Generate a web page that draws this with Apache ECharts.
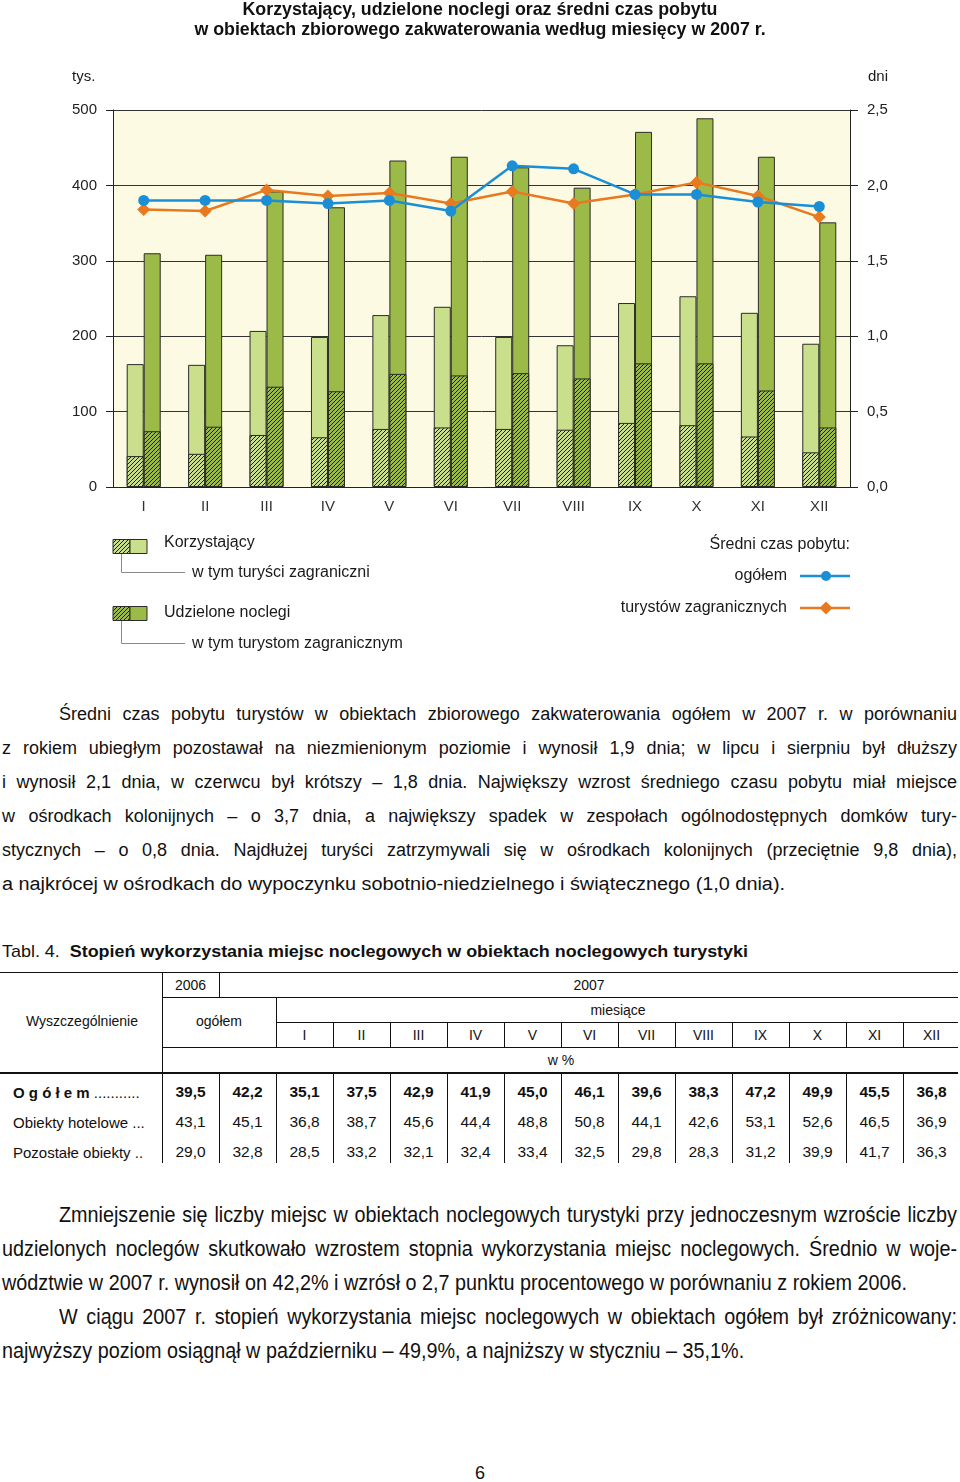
<!DOCTYPE html>
<html><head><meta charset="utf-8">
<script src="https://cdn.jsdelivr.net/npm/echarts@6/dist/echarts.min.js"></script>
<style>
html,body{margin:0;padding:0;background:#fff;}
body{width:960px;height:1482px;position:relative;overflow:hidden;font-family:'Liberation Sans',Arial,sans-serif;color:#111;}
#chart{position:absolute;left:0;top:0;width:960px;height:670px;}
.ln{position:absolute;white-space:nowrap;line-height:1;transform-origin:0 50%;}
.hl{position:absolute;background:#111;height:1px;}
.vl{position:absolute;background:#111;width:1px;}
</style></head>
<body>
<div id="chart"></div>
<script>
// ---------------- chart data ----------------
const months = ['I','II','III','IV','V','VI','VII','VIII','IX','X','XI','XII'];
const korzystajacy      = [163, 162, 207, 199, 228, 239, 199, 188, 244, 253, 231, 190];
const korzystajacyZagr  = [41, 44, 69, 66, 77, 79, 77, 76, 85, 82, 67, 46];
const noclegi           = [310, 308, 392, 371, 433, 438, 424, 397, 471, 489, 438, 351];
const noclegiZagr       = [74, 80, 133, 127, 150, 148, 151, 144, 164, 164, 128, 79];
const sredniOgolem      = [1.90, 1.90, 1.90, 1.88, 1.90, 1.83, 2.13, 2.11, 1.94, 1.94, 1.89, 1.86];
const sredniZagr        = [1.84, 1.83, 1.97, 1.93, 1.95, 1.88, 1.96, 1.88, 1.94, 2.02, 1.93, 1.79];
const leftTicks  = {min: 0, max: 500, interval: 100};
const rightTicks = {min: 0, max: 2.5, interval: 0.5};

// ---------------- table data ----------------
const tabMonths = ['I','II','III','IV','V','VI','VII','VIII','IX','X','XI','XII'];
const rowLabels = ['O g ó ł e m', 'Obiekty hotelowe', 'Pozostałe obiekty'];
const rowDots   = [' ...........', ' ...', ' ..'];
const rowOgolem  = [39.5, 42.2, 35.1, 37.5, 42.9, 41.9, 45.0, 46.1, 39.6, 38.3, 47.2, 49.9, 45.5, 36.8];
const rowHotel   = [43.1, 45.1, 36.8, 38.7, 45.6, 44.4, 48.8, 50.8, 44.1, 42.6, 53.1, 52.6, 46.5, 36.9];
const rowPozost  = [29.0, 32.8, 28.5, 33.2, 32.1, 32.4, 33.4, 32.5, 29.8, 28.3, 31.2, 39.9, 41.7, 36.3];

const LIGHT = '#C9DF8B', DARK = '#9CBA47', BLUE = '#1B8FD6', ORANGE = '#E8791F', EDGE = '#2b2b2b';
const FONT = "'Liberation Sans', Arial, sans-serif";

function makeHatch(bg) {
  const s = 4, c = document.createElement('canvas');
  c.width = s; c.height = s;
  const g = c.getContext('2d');
  g.fillStyle = bg; g.fillRect(0, 0, s, s);
  g.strokeStyle = '#1d1d1d'; g.lineWidth = 1;
  g.beginPath();
  g.moveTo(-1, s + 1); g.lineTo(s + 1, -1);
  g.moveTo(-1, 1); g.lineTo(1, -1);
  g.moveTo(s - 1, s + 1); g.lineTo(s + 1, s - 1);
  g.stroke();
  return c;
}
const hatchLight = {image: makeHatch(LIGHT), repeat: 'repeat'};
const hatchDark  = {image: makeHatch(DARK), repeat: 'repeat'};

const barBase = {type: 'bar', barWidth: 17, barGap: '0%', yAxisIndex: 0};
const txt = (text, x, y, align, size) => ({
  type: 'text', silent: true,
  style: {text, x, y, fill: '#1a1a1a', font: (size || 16) + 'px ' + FONT, textAlign: align || 'left', textVerticalAlign: 'middle'}
});

const chart = echarts.init(document.getElementById('chart'), null, {renderer: 'canvas'});
chart.setOption({
  animation: false,
  textStyle: {fontFamily: FONT},
  title: {
    text: 'Korzystający, udzielone noclegi oraz średni czas pobytu\nw obiektach zbiorowego zakwaterowania według miesięcy w 2007 r.',
    left: 'center', top: 0, padding: 0,
    textStyle: {fontSize: 17.8, fontWeight: 'bold', lineHeight: 20, color: '#111', fontFamily: FONT}
  },
  grid: {left: 113, right: 110, top: 110, height: 377, show: true, backgroundColor: '#FCFAE2', borderWidth: 0},
  xAxis: [
    {type: 'category', data: months, axisLine: {lineStyle: {color: '#222', width: 1}},
     axisTick: {length: 6, lineStyle: {color: '#222'}},
     axisLabel: {fontSize: 15, color: '#333', margin: 12, fontFamily: FONT}},
    {type: 'category', data: months, show: false}
  ],
  yAxis: [
    Object.assign({type: 'value', position: 'left',
      axisLine: {show: true, lineStyle: {color: '#222'}},
      axisTick: {show: true, length: 7, lineStyle: {color: '#222'}},
      axisLabel: {fontSize: 15, color: '#222', margin: 16, fontFamily: FONT},
      splitLine: {show: true, lineStyle: {color: '#333', width: 1}}}, leftTicks),
    Object.assign({type: 'value', position: 'right',
      axisLine: {show: true, lineStyle: {color: '#222'}},
      axisTick: {show: true, length: 8, lineStyle: {color: '#222'}},
      axisLabel: {fontSize: 15, color: '#222', margin: 17, fontFamily: FONT,
        formatter: v => v.toFixed(1).replace('.', ',')},
      splitLine: {show: false}}, rightTicks)
  ],
  series: [
    Object.assign({}, barBase, {name: 'Korzystający', xAxisIndex: 0, data: korzystajacy,
      itemStyle: {color: LIGHT, borderColor: EDGE, borderWidth: 1}}),
    Object.assign({}, barBase, {name: 'Udzielone noclegi', xAxisIndex: 0, data: noclegi,
      itemStyle: {color: DARK, borderColor: EDGE, borderWidth: 1}}),
    Object.assign({}, barBase, {name: 'w tym turyści zagraniczni', xAxisIndex: 1, data: korzystajacyZagr,
      itemStyle: {color: hatchLight, borderColor: EDGE, borderWidth: 1}}),
    Object.assign({}, barBase, {name: 'w tym turystom zagranicznym', xAxisIndex: 1, data: noclegiZagr,
      itemStyle: {color: hatchDark, borderColor: EDGE, borderWidth: 1}}),
    {type: 'line', name: 'ogółem', xAxisIndex: 0, yAxisIndex: 1, data: sredniOgolem,
      symbol: 'circle', symbolSize: 11, lineStyle: {color: BLUE, width: 2.5}, itemStyle: {color: BLUE}, z: 5},
    {type: 'line', name: 'turystów zagranicznych', xAxisIndex: 0, yAxisIndex: 1, data: sredniZagr,
      symbol: 'diamond', symbolSize: 13, lineStyle: {color: ORANGE, width: 2.5}, itemStyle: {color: ORANGE}, z: 4}
  ],
  graphic: [
    txt('tys.', 72, 77, 'left', 15),
    txt('dni', 868, 77, 'left', 15),
    // left legend
    {type: 'rect', shape: {x: 113, y: 539.5, width: 17, height: 14}, style: {fill: hatchLight, stroke: EDGE, lineWidth: 1}},
    {type: 'rect', shape: {x: 130, y: 539.5, width: 17, height: 14}, style: {fill: LIGHT, stroke: EDGE, lineWidth: 1}},
    txt('Korzystający', 164, 543),
    {type: 'polyline', shape: {points: [[121.5, 554], [121.5, 572.5], [185, 572.5]]}, style: {stroke: '#8a8a8a', lineWidth: 1, fill: null}},
    txt('w tym turyści zagraniczni', 192, 573),
    {type: 'rect', shape: {x: 113, y: 606.5, width: 17, height: 14}, style: {fill: hatchDark, stroke: EDGE, lineWidth: 1}},
    {type: 'rect', shape: {x: 130, y: 606.5, width: 17, height: 14}, style: {fill: DARK, stroke: EDGE, lineWidth: 1}},
    txt('Udzielone noclegi', 164, 613),
    {type: 'polyline', shape: {points: [[121.5, 621], [121.5, 643.5], [185, 643.5]]}, style: {stroke: '#8a8a8a', lineWidth: 1, fill: null}},
    txt('w tym turystom zagranicznym', 192, 644),
    // right legend
    txt('Średni czas pobytu:', 850, 545, 'right'),
    txt('ogółem', 787, 576, 'right'),
    {type: 'line', shape: {x1: 800, y1: 576, x2: 850, y2: 576}, style: {stroke: BLUE, lineWidth: 2.5}},
    {type: 'circle', shape: {cx: 826, cy: 576, r: 5}, style: {fill: BLUE}},
    txt('turystów zagranicznych', 787, 608, 'right'),
    {type: 'line', shape: {x1: 800, y1: 608, x2: 850, y2: 608}, style: {stroke: ORANGE, lineWidth: 2.5}},
    {type: 'polygon', shape: {points: [[826, 601.5], [832.5, 608], [826, 614.5], [819.5, 608]]}, style: {fill: ORANGE}}
  ]
});

// ---------------- document text ----------------
function measure(html, size, family) {
  const d = document.createElement('div');
  d.className = 'ln'; d.innerHTML = html;
  d.style.fontFamily = family || FONT; d.style.fontSize = size + 'px';
  document.body.appendChild(d);
  const w = d.getBoundingClientRect().width;
  d.remove();
  return w;
}
function put(html, o) {
  const d = document.createElement('div');
  d.className = 'ln';
  d.innerHTML = html;
  d.style.fontFamily = o.family || FONT;
  d.style.fontSize = (o.size || 18) + 'px';
  if (o.bold) d.style.fontWeight = 'bold';
  document.body.appendChild(d);
  let w = d.getBoundingClientRect().width;
  const h = o.size || 18;
  let sx = o.sx || 1;
  if (o.target) {
    const tgt = o.target / sx;
    if (o.justify) {
      const n = (d.textContent.match(/ /g) || []).length;
      if (w < tgt && n > 0) d.style.wordSpacing = ((tgt - w) / n) + 'px';
      else if (w > tgt) sx = o.target / w;
    } else if (Math.abs(tgt / w - 1) > 0.01) {
      sx = o.target / w;
    }
    w = o.target;
  } else {
    w = w * sx;
  }
  if (sx !== 1) d.style.transform = 'scaleX(' + sx + ')';
  let left = o.x;
  if (o.align === 'center') left = o.x - w / 2;
  if (o.align === 'right') left = o.x - w;
  d.style.left = left + 'px';
  d.style.top = (o.y - h / 2) + 'px';
  return d;
}

const para1 = [
  'Średni czas pobytu turystów w obiektach zbiorowego zakwaterowania ogółem w 2007 r. w porównaniu',
  'z rokiem ubiegłym pozostawał na niezmienionym poziomie i wynosił 1,9 dnia; w lipcu i sierpniu był dłuższy',
  'i wynosił 2,1 dnia, w czerwcu był krótszy – 1,8 dnia. Największy wzrost średniego czasu pobytu miał miejsce',
  'w ośrodkach kolonijnych – o 3,7 dnia, a największy spadek w zespołach ogólnodostępnych domków tury-',
  'stycznych – o 0,8 dnia. Najdłużej turyści zatrzymywali się w ośrodkach kolonijnych (przeciętnie 9,8 dnia),',
  'a najkrócej w ośrodkach do wypoczynku sobotnio-niedzielnego i świątecznego (1,0 dnia).'
];
para1.forEach((t, i) => {
  const first = i === 0, last = i === para1.length - 1;
  const x = first ? 59 : 2;
  put(t, {x, y: 714 + 34 * i, size: 18, target: last ? 783 : 957 - x, justify: !last});
});

const para2 = [
  ['Zmniejszenie się liczby miejsc w obiektach noclegowych turystyki przy jednoczesnym wzroście liczby', true, false],
  ['udzielonych noclegów skutkowało wzrostem stopnia wykorzystania miejsc noclegowych. Średnio w woje-', false, false],
  ['wództwie w 2007 r. wynosił on 42,2% i wzrósł o 2,7 punktu procentowego w porównaniu z rokiem 2006.', false, true],
  ['W ciągu 2007 r. stopień wykorzystania miejsc noclegowych w obiektach ogółem był zróżnicowany:', true, false],
  ['najwyższy poziom osiągnął w październiku – 49,9%, a najniższy w styczniu – 35,1%.', false, true]
];
const P2SIZE = 22.5;
const p2sx = 905 / measure(para2[2][0], P2SIZE);
para2.forEach((p, i) => {
  const x = p[1] ? 59 : 2;
  put(p[0], {x, y: 1215 + 34 * i, size: P2SIZE, sx: p2sx, target: p[2] ? null : 957 - x, justify: !p[2]});
});

put('Tabl. 4.&nbsp; <b>Stopień wykorzystania miejsc noclegowych w obiektach noclegowych turystyki</b>',
    {x: 2, y: 951, size: 17, target: 746});

put('6', {x: 480, y: 1473, size: 18, align: 'center'});

// ---------------- table ----------------
function hl(x1, x2, y, t) { const d = document.createElement('div'); d.className = 'hl';
  d.style.left = x1 + 'px'; d.style.width = (x2 - x1) + 'px'; d.style.top = y + 'px'; d.style.height = (t || 1) + 'px'; document.body.appendChild(d); }
function vl(x, y1, y2) { const d = document.createElement('div'); d.className = 'vl';
  d.style.left = x + 'px'; d.style.top = y1 + 'px'; d.style.height = (y2 - y1) + 'px'; document.body.appendChild(d); }

const colX = [0, 162, 219, 276];
for (let i = 1; i <= 12; i++) colX.push(276 + 57 * i);
const T0 = 972, R1 = 997, R2 = 1022, R3 = 1047, R4 = 1072, BOT = 1163;

hl(0, 958, T0); hl(162, 958, R1); hl(276, 958, R2); hl(162, 958, R3); hl(0, 958, R4, 2);
vl(162, T0, R4); vl(219, T0, R1); vl(276, R1, R3);
for (let i = 4; i < colX.length - 1; i++) vl(colX[i], R2, R3);
for (let i = 1; i < colX.length - 1; i++) vl(colX[i], R4 + 2, BOT);

const HS = 14;
put('Wyszczególnienie', {x: 82, y: 1021, size: HS, align: 'center'});
put('2006', {x: 190.5, y: 985, size: HS, align: 'center'});
put('2007', {x: 589, y: 985, size: HS, align: 'center'});
put('ogółem', {x: 219, y: 1021, size: HS, align: 'center'});
put('miesiące', {x: 618, y: 1010, size: HS, align: 'center'});
tabMonths.forEach((m, i) => put(m, {x: 276 + 57 * i + 28.5, y: 1035, size: HS, align: 'center'}));
put('w %', {x: 561, y: 1060, size: HS, align: 'center'});

const fmt = v => v.toFixed(1).replace('.', ',');
[rowOgolem, rowHotel, rowPozost].forEach((row, r) => {
  const y = 1092 + 30 * r;
  const lab = r === 0 ? '<b>' + rowLabels[r] + '</b>' + rowDots[r] : rowLabels[r] + rowDots[r];
  put(lab, {x: 13, y, size: 15});
  row.forEach((v, i) => put(fmt(v), {x: (colX[i + 1] + colX[i + 2]) / 2, y, size: 15.5, bold: r === 0, align: 'center'}));
});
</script>
</body></html>
